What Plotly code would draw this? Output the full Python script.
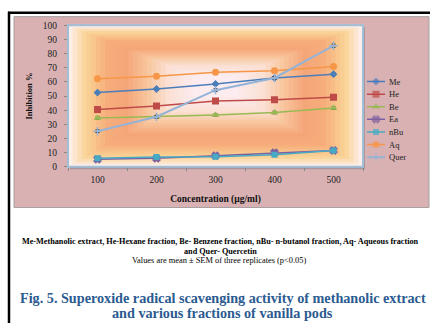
import plotly.graph_objects as go

# ---- data ----
concentrations = ["100", "200", "300", "400", "500"]
me   = [52.5, 55.0, 58.6, 62.7, 65.5]
he   = [40.6, 43.0, 46.6, 47.5, 49.2]
be   = [34.5, 35.4, 36.7, 38.4, 41.5]
ea   = [5.4, 6.0, 7.9, 10.0, 11.6]
nbu  = [6.0, 7.0, 7.2, 8.6, 11.6]
aq   = [62.3, 64.0, 66.8, 67.9, 71.0]
quer = [25.2, 35.4, 54.2, 62.8, 85.6]
sem_me   = [0.8, 0.8, 0.9, 0.9, 1.0]
sem_he   = [0.9, 0.9, 1.0, 1.0, 1.0]
sem_be   = [0.8, 0.8, 0.8, 0.9, 0.9]
sem_ea   = [0.8, 0.8, 1.2, 1.5, 1.0]
sem_nbu  = [0.8, 0.8, 1.0, 1.3, 1.0]
sem_aq   = [0.9, 0.9, 1.0, 1.2, 1.2]
sem_quer = [1.0, 1.0, 1.0, 1.0, 1.2]
names = ["Me", "He", "Be", "Ea", "nBu", "Aq", "Quer"]

W, H = 430, 323
L, R, T, B = 68, 363, 21, 167

def X(x):
    return x / W

def Y(y):
    return 1 - y / H

series = [
    (me, sem_me, "#4a7ebb", "diamond", 6, 1.5),
    (he, sem_he, "#be4b48", "square", 7, 1.5),
    (be, sem_be, "#98b954", "triangle-up", 7, 1.5),
    (ea, sem_ea, "#7d60a0", "x", 6, 1.5),
    (nbu, sem_nbu, "#46aac5", "square-x", 6, 1.5),
    (aq, sem_aq, "#f79646", "circle", 7, 1.5),
    (quer, sem_quer, "#95b3d7", "cross-thin-open", 6, 2),
]

fig = go.Figure()
for name, (vals, sem, col, sym, sz, lw) in zip(names, series):
    mline = dict(color=col, width=1.5 if ("open" in sym or sym == "x") else 0)
    fig.add_trace(go.Scatter(
        x=concentrations, y=vals, name=name, mode="lines+markers",
        line=dict(color=col, width=lw),
        marker=dict(symbol=sym, size=sz, color=col, line=mline),
        error_y=dict(type="data", array=sem, visible=True, color="#333333",
                     thickness=1, width=2),
        showlegend=False,
    ))

# manual legend (compact spacing as in the reference)
for i, (name, (vals, sem, col, sym, sz, lw)) in enumerate(zip(names, series)):
    mline = dict(color=col, width=1.5 if ("open" in sym or sym == "x") else 0)
    fig.add_trace(go.Scatter(
        x=[0, 0.5, 1], y=[i, i, i], mode="lines+markers", xaxis="x2", yaxis="y2",
        line=dict(color=col, width=lw),
        marker=dict(symbol=sym, size=[0, sz, 0], color=col, line=mline),
        showlegend=False, hoverinfo="skip",
    ))

shapes = []
shapes.append(dict(type="line", xref="paper", yref="paper", x0=X(8), x1=X(431),
                   y0=Y(8), y1=Y(8), line=dict(color="black", width=2.5), layer="below"))
shapes.append(dict(type="line", xref="paper", yref="paper", x0=X(9), x1=X(9),
                   y0=Y(7), y1=Y(330), line=dict(color="black", width=2.5), layer="below"))
shapes.append(dict(type="rect", xref="paper", yref="paper", x0=X(14), x1=X(429),
                   y0=Y(12), y1=Y(209), fillcolor="#d9b1b3",
                   line=dict(color="#a8a0a0", width=1), layer="below"))
# plot-area shadow
shapes.append(dict(type="rect", xref="paper", yref="paper", x0=X(70), x1=X(365),
                   y0=Y(23), y1=Y(169.5), fillcolor="#a9959a",
                   line=dict(width=0), layer="below"))

stops = [(0.0, (253, 238, 234)), (0.12, (250, 212, 150)), (0.3, (246, 172, 122)),
         (0.45, (245, 166, 121)), (0.62, (248, 198, 158)), (0.78, (251, 224, 212)),
         (1.0, (252, 236, 240))]

def colat(t):
    for (t0, c0), (t1, c1) in zip(stops[:-1], stops[1:]):
        if t0 <= t <= t1:
            f = (t - t0) / (t1 - t0)
            return "rgb(%d,%d,%d)" % tuple(round(a + (b - a) * f) for a, b in zip(c0, c1))
    return "rgb(%d,%d,%d)" % stops[-1][1]

cx, cy = 0.5, 0.58
n = 28
for i in range(n):
    t = i / (n - 1)
    shapes.append(dict(type="rect", xref="x domain", yref="y domain",
                       x0=t * cx * 0.85, x1=1 - t * (1 - cx) * 0.85,
                       y0=t * cy * 0.85, y1=1 - t * (1 - cy) * 0.85,
                       fillcolor=colat(t), line=dict(width=0), layer="below"))
shapes.append(dict(type="rect", xref="x domain", yref="y domain", x0=0, x1=1, y0=0, y1=1,
                   line=dict(color="#a0c0d8", width=2), fillcolor="rgba(0,0,0,0)", layer="below"))

serif = "Liberation Serif"
annotations = []
for i, name in enumerate(names):
    annotations.append(dict(text=name, x=X(387), y=i, xref="paper", yref="y2",
                            xanchor="left", yanchor="middle", showarrow=False,
                            font=dict(family=serif, size=8.5, color="#222")))

def cap(text, x, y, size, color):
    return dict(text=text, x=X(x), y=Y(y), xref="paper", yref="paper", showarrow=False,
                xanchor="center", yanchor="middle",
                font=dict(family=serif, size=size, color=color))

annotations += [
    cap("<b>Me-Methanolic extract, He-Hexane fraction, Be- Benzene fraction, nBu- n-butanol fraction, Aq- Aqueous fraction</b>",
        221, 244, 8.2, "black"),
    cap("<b>and Quer- Quercetin</b>", 221, 254, 8.2, "black"),
    cap("Values are mean ± SEM of three replicates (p<0.05)", 219, 264, 8.4, "black"),
    cap("<b>Fig. 5. Superoxide radical scavenging activity of methanolic extract</b>",
        223, 302.5, 14.2, "#2b5b91"),
    cap("<b>and various fractions of vanilla pods</b>", 222, 318, 14.2, "#2b5b91"),
]

fig.update_layout(
    width=W, height=H,
    margin=dict(l=0, r=0, t=0, b=0, pad=0),
    paper_bgcolor="white", plot_bgcolor="rgba(0,0,0,0)",
    shapes=shapes, annotations=annotations,
    showlegend=False,
    xaxis=dict(type="category", categoryorder="array", categoryarray=concentrations,
               range=[-0.5, 4.5],
               domain=[X(L), X(R)], anchor="y",
               showgrid=False, zeroline=False, showline=False,
               ticks="outside", tickson="boundaries", ticklen=3, tickcolor="#888",
               ticklabelstandoff=6,
               tickfont=dict(family=serif, size=9.5, color="#222"),
               title=dict(text="<b>Concentration (µg/ml)</b>", standoff=11,
                          font=dict(family=serif, size=9.5, color="#111"))),
    yaxis=dict(range=[0, 100], dtick=10, showgrid=False, zeroline=False, showline=False,
               domain=[Y(B), Y(T)], anchor="x",
               ticks="outside", ticklen=3, tickcolor="#888", ticklabelstandoff=5,
               tickfont=dict(family=serif, size=9.5, color="#222"),
               title=dict(text="<b>Inhibition %</b>", standoff=8,
                          font=dict(family=serif, size=8.5, color="#111"))),
    xaxis2=dict(domain=[X(367), X(385)], range=[0, 1], visible=False,
                anchor="y2", fixedrange=True),
    yaxis2=dict(domain=[Y(163.5), Y(72.5)], range=[6.5, -0.5], visible=False,
                anchor="x2", fixedrange=True),
)

fig.write_html("out.html")
